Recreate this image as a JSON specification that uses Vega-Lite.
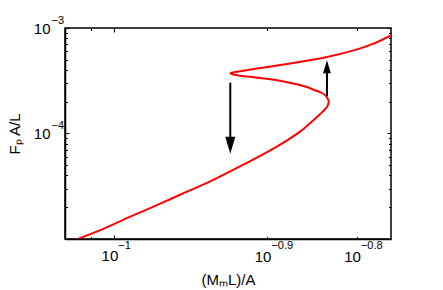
{
  "$schema": "https://vega.github.io/schema/vega-lite/v6.json",
  "width": 326,
  "height": 211,
  "autosize": "none",
  "padding": {"left": 65, "top": 28, "right": 52, "bottom": 51},
  "background": "white",
  "config": {
    "font": "Liberation Sans",
    "view": {"stroke": "black", "strokeWidth": 1.5},
    "axis": {
      "domainColor": "black",
      "domainWidth": 1.5,
      "tickColor": "black",
      "tickWidth": 1,
      "grid": false,
      "labelFont": "Liberation Sans",
      "labelFontSize": 15,
      "labelColor": "black",
      "titleFont": "Liberation Sans",
      "titleFontSize": 15,
      "titleFontWeight": "normal",
      "titleColor": "black"
    }
  },
  "datasets": {
    "curve": [
      {"i": 1, "x": 0.08507, "y": 1.0066e-5},
      {"i": 2, "x": 0.09386, "y": 1.212e-5},
      {"i": 3, "x": 0.10751, "y": 1.627e-5},
      {"i": 4, "x": 0.12314, "y": 2.161e-5},
      {"i": 5, "x": 0.14107, "y": 2.901e-5},
      {"i": 6, "x": 0.15444, "y": 3.516e-5},
      {"i": 7, "x": 0.17933, "y": 5.061e-5},
      {"i": 8, "x": 0.20919, "y": 7.545e-5},
      {"i": 9, "x": 0.23215, "y": 1.0469e-4},
      {"i": 10, "x": 0.24285, "y": 1.2577e-4},
      {"i": 11, "x": 0.25031, "y": 1.4336e-4},
      {"i": 12, "x": 0.25722, "y": 1.62e-4},
      {"i": 13, "x": 0.26192, "y": 1.783e-4},
      {"i": 14, "x": 0.26382, "y": 1.946e-4},
      {"i": 15, "x": 0.26346, "y": 2.091e-4},
      {"i": 16, "x": 0.26109, "y": 2.247e-4},
      {"i": 17, "x": 0.25606, "y": 2.42e-4},
      {"i": 18, "x": 0.24651, "y": 2.601e-4},
      {"i": 19, "x": 0.23929, "y": 2.759e-4},
      {"i": 20, "x": 0.21524, "y": 3.118e-4},
      {"i": 21, "x": 0.19364, "y": 3.358e-4},
      {"i": 22, "x": 0.17691, "y": 3.531e-4},
      {"i": 23, "x": 0.17061, "y": 3.641e-4},
      {"i": 24, "x": 0.16907, "y": 3.721e-4},
      {"i": 25, "x": 0.17139, "y": 3.795e-4},
      {"i": 26, "x": 0.17691, "y": 3.887e-4},
      {"i": 27, "x": 0.19364, "y": 4.177e-4},
      {"i": 28, "x": 0.22518, "y": 4.659e-4},
      {"i": 29, "x": 0.26192, "y": 5.31e-4},
      {"i": 30, "x": 0.29545, "y": 6.134e-4},
      {"i": 31, "x": 0.32348, "y": 7.1e-4},
      {"i": 32, "x": 0.35048, "y": 8.547e-4}
    ],
    "arrows": [
      {"dir": "down", "x": 0.16907, "y": 3.031e-4, "head": 7.745e-5},
      {"dir": "up", "x": 0.26192, "y": 2.257e-4, "head": 4.297e-4}
    ],
    "exps": [
      {"axis": "x", "x": 0.1, "y": 1e-5, "t": "−1"},
      {"axis": "x", "x": 0.2, "y": 1e-5, "t": "−0.9"},
      {"axis": "x", "x": 0.3, "y": 1e-5, "t": "−0.8"},
      {"axis": "y", "x": 0.08, "y": 1e-4, "t": "−4"},
      {"axis": "y", "x": 0.08, "y": 1e-3, "t": "−3"}
    ]
  },
  "layer": [
    {
      "encoding": {
        "x": {
          "field": "x", "type": "quantitative",
          "scale": {"type": "log", "domain": [0.08, 0.35], "nice": false, "zero": false},
          "axis": {
            "title": "(MₘL)/A",
            "values": [0.09, 0.1, 0.2, 0.3],
            "labelExpr": "datum.value == 0.09 ? '' : '10'",
            "labelAlign": "right",
            "labelBaseline": "top",
            "labelOffset": 3.5,
            "labelPadding": 13,
            "tickSize": {"condition": {"test": "datum.value == 0.1", "value": -4}, "value": -2.5},
            "titlePadding": 8
          }
        },
        "y": {
          "field": "y", "type": "quantitative",
          "scale": {"type": "log", "domain": [1e-5, 1e-3], "nice": false, "zero": false},
          "axis": {
            "title": "Fₚ A/L",
            "values": [2e-5, 3e-5, 4e-5, 5e-5, 6e-5, 7e-5, 8e-5, 9e-5, 0.0001, 0.0002, 0.0003, 0.0004, 0.0005, 0.0006, 0.0007, 0.0008, 0.0009, 0.001],
            "labelExpr": "(datum.value == 0.0001 || datum.value == 0.001) ? '10' : ''",
            "labelBaseline": "middle",
            "labelPadding": 19,
            "tickSize": {"condition": {"test": "datum.value == 0.0001 || datum.value == 0.001", "value": -4}, "value": -2.5},
            "titlePadding": 11
          }
        }
      },
      "layer": [
        {
          "data": {"name": "curve"},
          "mark": {"type": "line", "color": "#ff0000", "strokeWidth": 2, "clip": true, "interpolate": "catmull-rom"},
          "encoding": {"order": {"field": "i", "type": "quantitative"}}
        },
        {
          "data": {"name": "arrows"},
          "mark": {"type": "rule", "color": "black", "strokeWidth": 2},
          "encoding": {"y2": {"field": "head"}}
        },
        {
          "data": {"name": "arrows"},
          "transform": [{"filter": "datum.dir == 'down'"}],
          "mark": {"type": "point", "filled": true, "color": "black", "opacity": 1, "size": 289, "shape": "M-0.59,-1L0.59,-1L0,1Z", "strokeWidth": 0},
          "encoding": {"y": {"field": "head", "type": "quantitative"}}
        },
        {
          "data": {"name": "arrows"},
          "transform": [{"filter": "datum.dir == 'up'"}],
          "mark": {"type": "point", "filled": true, "color": "black", "opacity": 1, "size": 169, "shape": "M-0.6,1L0.6,1L0,-1Z", "strokeWidth": 0},
          "encoding": {"y": {"field": "head", "type": "quantitative"}}
        },
        {
          "data": {"name": "exps"},
          "transform": [{"filter": "datum.axis == 'x'"}],
          "mark": {"type": "text", "align": "left", "baseline": "middle", "dx": 4, "dy": 6.5, "fontSize": 11, "color": "black", "font": "Liberation Sans"},
          "encoding": {"text": {"field": "t"}}
        },
        {
          "data": {"name": "exps"},
          "transform": [{"filter": "datum.axis == 'y'"}],
          "mark": {"type": "text", "align": "left", "baseline": "middle", "dx": -13.5, "dy": -7.5, "fontSize": 11, "color": "black", "font": "Liberation Sans"},
          "encoding": {"text": {"field": "t"}}
        }
      ]
    },
    {
      "data": {"values": [{"x": 0.1, "y": 0.0001}]},
      "mark": {"type": "point", "opacity": 0},
      "encoding": {
        "x": {
          "field": "x", "type": "quantitative",
          "scale": {"type": "log", "domain": [0.08, 0.35], "nice": false, "zero": false},
          "axis": {"orient": "top", "title": null, "labels": false, "domain": false, "values": [0.09, 0.1, 0.2, 0.3],
                   "tickSize": {"condition": {"test": "datum.value == 0.1", "value": -4}, "value": -2.5}}
        },
        "y": {
          "field": "y", "type": "quantitative",
          "scale": {"type": "log", "domain": [1e-5, 1e-3], "nice": false, "zero": false},
          "axis": {"orient": "right", "title": null, "labels": false, "domain": false,
                   "values": [2e-5, 3e-5, 4e-5, 5e-5, 6e-5, 7e-5, 8e-5, 9e-5, 0.0001, 0.0002, 0.0003, 0.0004, 0.0005, 0.0006, 0.0007, 0.0008, 0.0009, 0.001],
                   "tickSize": {"condition": {"test": "datum.value == 0.0001 || datum.value == 0.001", "value": -4}, "value": -2.5}}
        }
      }
    }
  ],
  "resolve": {"scale": {"x": "independent", "y": "independent"}}
}
